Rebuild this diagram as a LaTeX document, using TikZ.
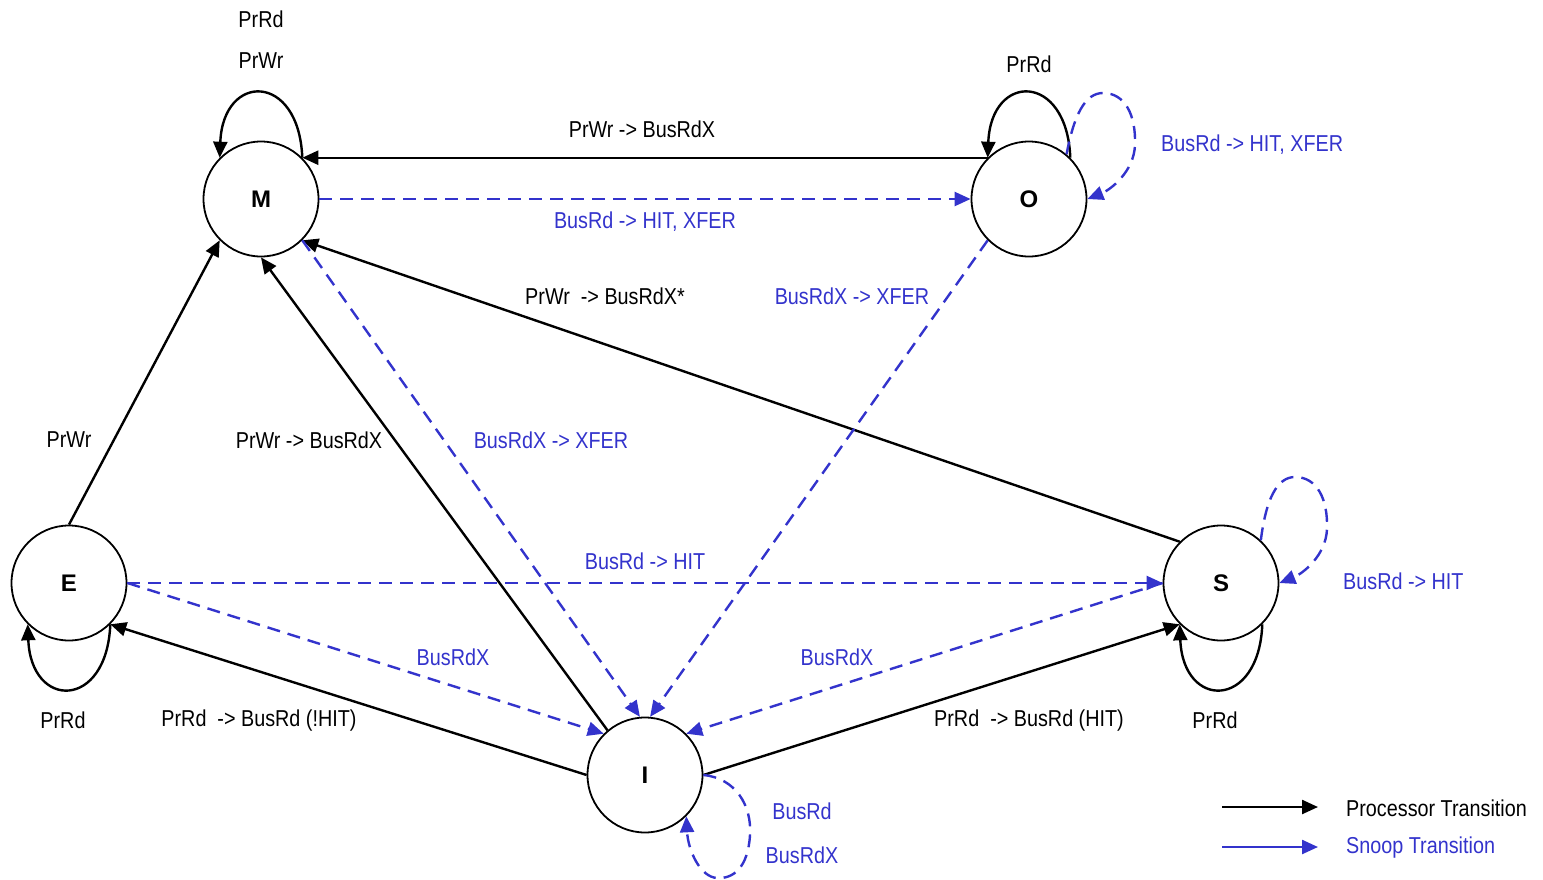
\documentclass[tikz,border=0pt]{standalone}
\usepackage{fontspec}
\setmainfont{Liberation Sans}[FakeStretch=0.86]
\newfontfamily\statefont{Liberation Sans}
\usetikzlibrary{arrows.meta}
\definecolor{snoop}{RGB}{51,51,204}
\tikzset{
  state/.style={draw, circle, line width=1.8pt, minimum size=115pt, inner sep=0pt,
    font=\statefont\bfseries\fontsize{24}{28}\selectfont},
  lbl/.style={inner sep=0pt, font=\fontsize{23}{27}\selectfont},
  slbl/.style={lbl, text=snoop},
  proc/.style={line width=2.4pt, -{Triangle[length=16pt,width=14pt]}},
  snp/.style={line width=2.4pt, snoop, dash pattern=on 13pt off 8pt, -{Triangle[length=16pt,width=14pt]}},
  snpleg/.style={line width=2.4pt, snoop, -{Triangle[length=16pt,width=14pt]}}
}
\begin{document}
\begin{tikzpicture}[x=1pt,y=-1pt]
\useasboundingbox (0,0) rectangle (1543,879);
\node[state] (M) at (261,199) {M};
\node[state] (O) at (1029,199) {O};
\node[state] (E) at (69,583) {E};
\node[state] (S) at (1221,583) {S};
\node[state] (I) at (645,775) {I};

% straight transitions
\draw[proc] (O.135) -- (M.45);
\draw[snp] (M.0) -- (O.180);
\draw[proc] (S.135) -- (M.-45);
\draw[snp] (O.-135) -- (I.85);
\draw[snp] (M.-45) -- (I.95);
\draw[proc] (I.130) -- (M.-90);
\draw[proc] (E.90) -- (M.-135);
\draw[snp] (E.0) -- (S.180);
\draw[snp] (E.0) -- (I.135);
\draw[snp] (S.180) -- (I.45);
\draw[proc] (I.180) -- (E.-45);
\draw[proc] (I.0) -- (S.-135);

% self loops
\draw[proc] (M.45) .. controls (299,72) and (223,72) .. (M.135);
\draw[proc] (O.45) .. controls (1067,72) and (991,72) .. (O.135);
\draw[proc] (S.-45) .. controls (1259,710) and (1183,710) .. (S.-135);
\draw[proc] (E.-45) .. controls (107,710) and (31,710) .. (E.-135);
\draw[snp] (O.50) .. controls (1074,115) and (1085,93) .. (1103,93)
  .. controls (1125,93) and (1136,115) .. (1135,145)
  .. controls (1134,172) and (1110,190) .. (O.0);
\draw[snp] (S.47) .. controls (1266,499) and (1277,477) .. (1295,477)
  .. controls (1317,477) and (1328,499) .. (1327,529)
  .. controls (1326,556) and (1302,574) .. (S.0);
\draw[snp] (I.0) .. controls (735,778) and (752,805) .. (750,835)
  .. controls (748,868) and (733,879) .. (717,878)
  .. controls (700,877) and (688,850) .. (I.-45);

% labels
\node[lbl] (lMrd) at (261,19) {PrRd};
\node[lbl] (lMwr) at (261,61) {PrWr};
\node[lbl] (lOM) at (642,129) {PrWr -> BusRdX};
\node[lbl] (lOrd) at (1029,64) {PrRd};
\node[slbl, anchor=west] (lOs) at (1161,145) {BusRd -> HIT, XFER};
\node[slbl] (lMO) at (645,222) {BusRd -> HIT, XFER};
\node[lbl] (lSM) at (605,296) {PrWr \ -> BusRdX*};
\node[slbl] (lOI) at (852,296) {BusRdX -> XFER};
\node[lbl] (lEM) at (69,440) {PrWr};
\node[lbl] (lIM) at (309,440) {PrWr -> BusRdX};
\node[slbl] (lMI) at (551,440) {BusRdX -> XFER};
\node[slbl] (lES) at (645,561) {BusRd -> HIT};
\node[slbl, anchor=west] (lSs) at (1343,581) {BusRd -> HIT};
\node[slbl] (lEI) at (453,657) {BusRdX};
\node[slbl] (lSI) at (837,657) {BusRdX};
\node[lbl] (lErd) at (63,720) {PrRd};
\node[lbl] (lIE) at (259,721) {PrRd \ -> BusRd (!HIT)};
\node[lbl] (lIS) at (1029,721) {PrRd \ -> BusRd (HIT)};
\node[lbl] (lSrd) at (1215,720) {PrRd};
\node[slbl] (lIs1) at (802,811) {BusRd};
\node[slbl] (lIs2) at (802,855) {BusRdX};

% legend
\coordinate (p1) at (1222,807);
\coordinate (p2) at (1318,807);
\coordinate (s1) at (1222,847);
\coordinate (s2) at (1318,847);
\draw[proc] (p1) -- (p2);
\draw[snpleg] (s1) -- (s2);
\node[lbl, anchor=west] (lp) at (1346,808) {Processor Transition};
\node[slbl, anchor=west] (ls) at (1346,848) {Snoop Transition};
\end{tikzpicture}
\end{document}
